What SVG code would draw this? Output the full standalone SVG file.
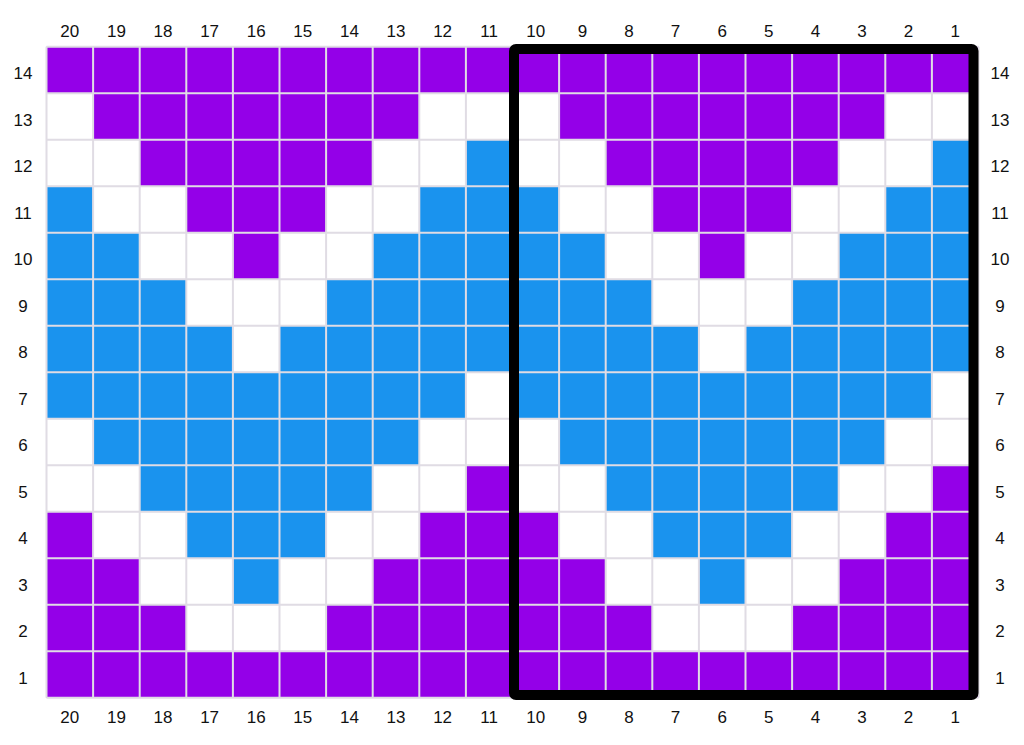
<svg xmlns="http://www.w3.org/2000/svg" xmlns:xlink="http://www.w3.org/1999/xlink" width="1024" height="745" viewBox="0 0 1024 745">
<style>
.p{fill:#9400e8}
.b{fill:#1a93ee}
.g{stroke:#e0dce4;stroke-width:2;fill:none}
.t{font-family:"Liberation Sans",Arial,sans-serif;font-size:17px;fill:#111;text-anchor:middle}
</style>
<defs>
<g id="half">
<rect class="p" x="0" y="0" width="466" height="46.5"/>
<rect class="p" x="46.6" y="46.5" width="326.2" height="46.5"/>
<rect class="p" x="93.2" y="93" width="233" height="46.5"/>
<rect class="p" x="139.8" y="139.5" width="139.8" height="46.5"/>
<rect class="p" x="186.4" y="186" width="46.6" height="46.5"/>
<rect class="p" x="419.4" y="418.5" width="46.6" height="46.5"/>
<rect class="p" x="0" y="465" width="46.6" height="46.5"/>
<rect class="p" x="372.8" y="465" width="93.2" height="46.5"/>
<rect class="p" x="0" y="511.5" width="93.2" height="46.5"/>
<rect class="p" x="326.2" y="511.5" width="139.8" height="46.5"/>
<rect class="p" x="0" y="558" width="139.8" height="46.5"/>
<rect class="p" x="279.6" y="558" width="186.4" height="46.5"/>
<rect class="p" x="0" y="604.5" width="466" height="46.5"/>
<rect class="b" x="419.4" y="93" width="46.6" height="46.5"/>
<rect class="b" x="0" y="139.5" width="46.6" height="46.5"/>
<rect class="b" x="372.8" y="139.5" width="93.2" height="46.5"/>
<rect class="b" x="0" y="186" width="93.2" height="46.5"/>
<rect class="b" x="326.2" y="186" width="139.8" height="46.5"/>
<rect class="b" x="0" y="232.5" width="139.8" height="46.5"/>
<rect class="b" x="279.6" y="232.5" width="186.4" height="46.5"/>
<rect class="b" x="0" y="279" width="186.4" height="46.5"/>
<rect class="b" x="233" y="279" width="233" height="46.5"/>
<rect class="b" x="0" y="325.5" width="419.4" height="46.5"/>
<rect class="b" x="46.6" y="372" width="326.2" height="46.5"/>
<rect class="b" x="93.2" y="418.5" width="233" height="46.5"/>
<rect class="b" x="139.8" y="465" width="139.8" height="46.5"/>
<rect class="b" x="186.4" y="511.5" width="46.6" height="46.5"/>
</g>
</defs>
<rect x="0" y="0" width="1024" height="745" fill="#fff"/>
<g id="cells">
<use xlink:href="#half" href="#half" x="46.5" y="46.7"/>
<use xlink:href="#half" href="#half" x="512.5" y="46.7"/>
</g>
<g id="gridlines" class="g">
<path d="M46.5 46.7V697.7M93.1 46.7V697.7M139.7 46.7V697.7M186.3 46.7V697.7M232.9 46.7V697.7M279.5 46.7V697.7M326.1 46.7V697.7M372.7 46.7V697.7M419.3 46.7V697.7M465.9 46.7V697.7M512.5 46.7V697.7M559.1 46.7V697.7M605.7 46.7V697.7M652.3 46.7V697.7M698.9 46.7V697.7M745.5 46.7V697.7M792.1 46.7V697.7M838.7 46.7V697.7M885.3 46.7V697.7M931.9 46.7V697.7M978.5 46.7V697.7"/>
<path d="M46.5 46.7H978.5M46.5 93.2H978.5M46.5 139.7H978.5M46.5 186.2H978.5M46.5 232.7H978.5M46.5 279.2H978.5M46.5 325.7H978.5M46.5 372.2H978.5M46.5 418.7H978.5M46.5 465.2H978.5M46.5 511.7H978.5M46.5 558.2H978.5M46.5 604.7H978.5M46.5 651.2H978.5M46.5 697.7H978.5"/>
</g>
<rect id="repeat-box" x="514" y="49" width="459.5" height="646" rx="2" fill="none" stroke="#000" stroke-width="10"/>
<g id="col-labels-top" class="t">
<text x="69.8" y="37">20</text><text x="116.4" y="37">19</text><text x="163" y="37">18</text><text x="209.6" y="37">17</text><text x="256.2" y="37">16</text><text x="302.8" y="37">15</text><text x="349.4" y="37">14</text><text x="396" y="37">13</text><text x="442.6" y="37">12</text><text x="489.2" y="37">11</text><text x="535.8" y="37">10</text><text x="582.4" y="37">9</text><text x="629" y="37">8</text><text x="675.6" y="37">7</text><text x="722.2" y="37">6</text><text x="768.8" y="37">5</text><text x="815.4" y="37">4</text><text x="862" y="37">3</text><text x="908.6" y="37">2</text><text x="955.2" y="37">1</text>
</g>
<g id="col-labels-bottom" class="t">
<text x="69.8" y="723">20</text><text x="116.4" y="723">19</text><text x="163" y="723">18</text><text x="209.6" y="723">17</text><text x="256.2" y="723">16</text><text x="302.8" y="723">15</text><text x="349.4" y="723">14</text><text x="396" y="723">13</text><text x="442.6" y="723">12</text><text x="489.2" y="723">11</text><text x="535.8" y="723">10</text><text x="582.4" y="723">9</text><text x="629" y="723">8</text><text x="675.6" y="723">7</text><text x="722.2" y="723">6</text><text x="768.8" y="723">5</text><text x="815.4" y="723">4</text><text x="862" y="723">3</text><text x="908.6" y="723">2</text><text x="955.2" y="723">1</text>
</g>
<g id="row-labels-left" class="t">
<text x="23" y="79">14</text><text x="23" y="125.5">13</text><text x="23" y="172">12</text><text x="23" y="218.5">11</text><text x="23" y="265">10</text><text x="23" y="311.5">9</text><text x="23" y="358">8</text><text x="23" y="404.5">7</text><text x="23" y="451">6</text><text x="23" y="497.5">5</text><text x="23" y="544">4</text><text x="23" y="590.5">3</text><text x="23" y="637">2</text><text x="23" y="683.5">1</text>
</g>
<g id="row-labels-right" class="t">
<text x="1000" y="79">14</text><text x="1000" y="125.5">13</text><text x="1000" y="172">12</text><text x="1000" y="218.5">11</text><text x="1000" y="265">10</text><text x="1000" y="311.5">9</text><text x="1000" y="358">8</text><text x="1000" y="404.5">7</text><text x="1000" y="451">6</text><text x="1000" y="497.5">5</text><text x="1000" y="544">4</text><text x="1000" y="590.5">3</text><text x="1000" y="637">2</text><text x="1000" y="683.5">1</text>
</g>
</svg>
